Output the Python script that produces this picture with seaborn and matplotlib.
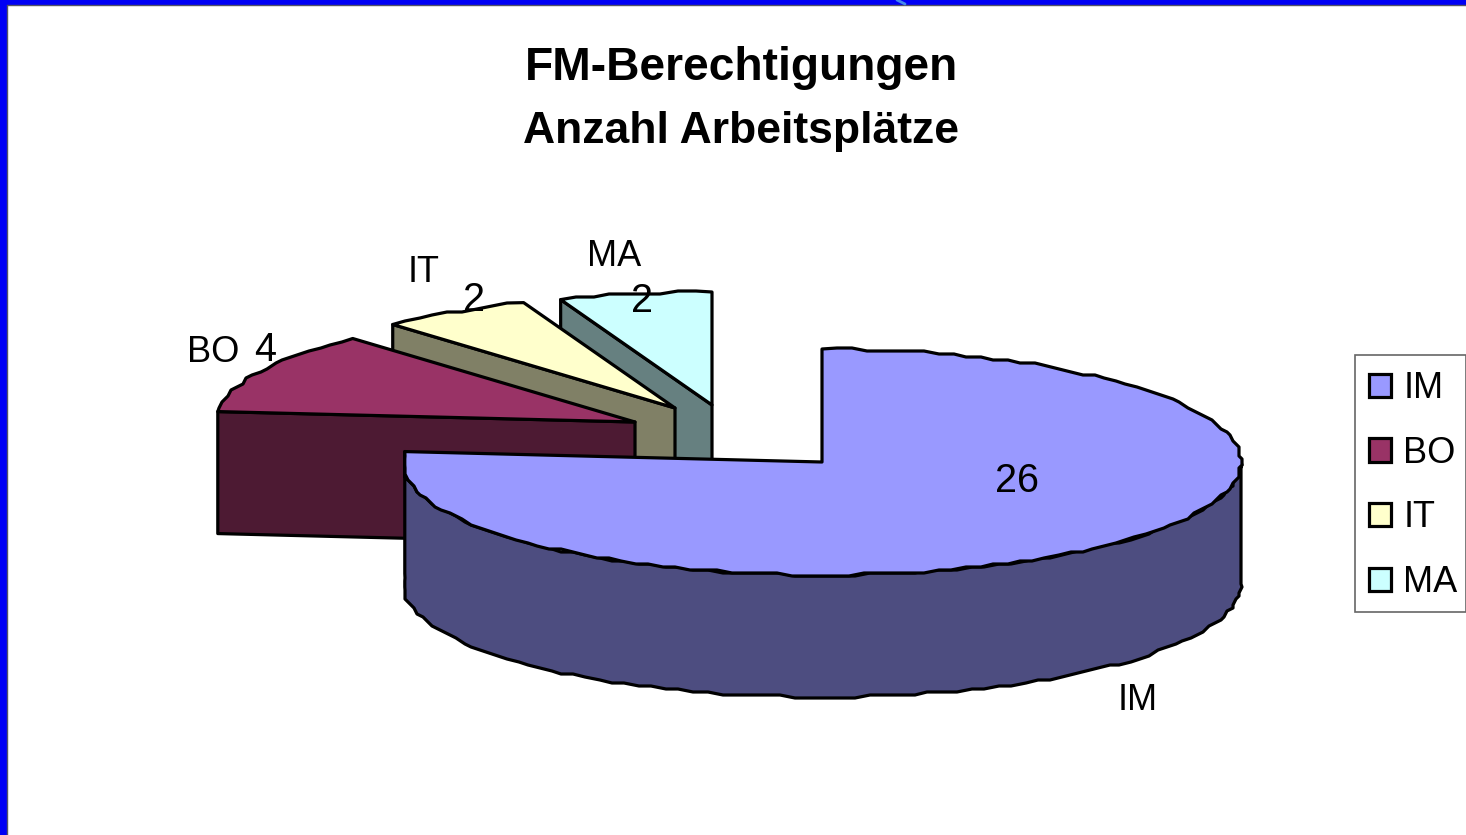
# 3D style exploded pie, drawn from the slice values on a pixel-sized axes.

import numpy as np
import matplotlib
matplotlib.use('Agg')
import matplotlib.pyplot as plt
from matplotlib.patches import Patch, Polygon, Rectangle
import seaborn as sns

# Chart values.

title_lines = ['FM-Berechtigungen', 'Anzahl Arbeitsplätze']
categories = ['IM', 'BO', 'IT', 'MA']
values = [26, 4, 2, 2]

# Colours and layout.

top_colors = sns.color_palette(['#9999FF', '#993366', '#FFFFCC', '#CCFFFF'])
side_colors = sns.color_palette(['#4D4D80', '#4D1A33', '#808066', '#668080'])
apex_x = [822, 635, 675, 712]
apex_y = [462, 422, 408, 405]
name_pos = [(1138, 700), (213, 353), (424, 273), (614, 256)]
value_pos = [(1017, 481), (265, 350), (474, 300), (642, 301)]
radius_x = 419
radius_y = 113
depth = 122
edge = 2.3

sns.set_style('white')
plt.rcParams['font.family'] = ['Liberation Sans', 'DejaVu Sans']
plt.rcParams['text.color'] = 'black'

fig = plt.figure(figsize=(14.66, 8.35), dpi=100)
ax = fig.add_axes([0, 0, 1, 1])
ax.set_xlim(0, 1466)
ax.set_ylim(835, 0)
ax.axis('off')


def rim(i, start, stop):
    # Points on the ellipse, angles clockwise from 12 o'clock.
    n = max(int(abs(stop - start) / 2), 2)
    ang = np.radians(np.linspace(start, stop, n))
    xy = np.column_stack([apex_x[i] + radius_x * np.sin(ang),
                          apex_y[i] - radius_y * np.cos(ang)])
    xy[1:-1] = np.round(xy[1:-1] / 3) * 3
    return xy


# Window border of the slide.

ax.add_patch(Rectangle((0, 0), 1466, 5, color='#0000F5', lw=0))
ax.add_patch(Rectangle((0, 0), 6.5, 835, color='#0000F5', lw=0))
ax.plot([7, 7, 1466], [835, 5, 5], color='#555566', lw=1)
ax.plot([897, 905], [0, 4], color='#4488EE', lw=2)

# Back slices first, the big one last.

stops = np.cumsum(values) / np.sum(values) * 360
starts = np.concatenate([[0], stops[:-1]])

for i in [3, 2, 1, 0]:
    apex = np.array([apex_x[i], apex_y[i]])
    top = rim(i, starts[i], stops[i])
    if i == 0:
        # The left end of the big slice is cut off straight.
        top[:, 0] = np.maximum(top[:, 0], top[-1, 0])
        front = rim(i, 90, stops[i])
        front[:, 0] = np.maximum(front[:, 0], front[-1, 0])
        wall = np.vstack([front, (front + [0, depth])[::-1]])
        ax.add_patch(Polygon(wall, fc=side_colors[i], ec='black', lw=edge, joinstyle='round'))
    else:
        face = np.array([top[0], apex, apex + [0, depth], top[0] + [0, depth]])
        ax.add_patch(Polygon(face, fc=side_colors[i], ec='black', lw=edge, joinstyle='round'))
    ax.add_patch(Polygon(np.vstack([apex, top]), fc=top_colors[i], ec='black', lw=edge, joinstyle='round'))

# Slice labels.

for i in range(len(categories)):
    ax.text(name_pos[i][0], name_pos[i][1], categories[i], fontsize=26, ha='center', va='center', zorder=5)
    ax.text(value_pos[i][0], value_pos[i][1], str(values[i]), fontsize=28.5, ha='center', va='center', zorder=5)

ax.text(742, 68, title_lines[0], fontsize=33.2, fontweight='bold', ha='center', va='center')
ax.text(741, 132, title_lines[1], fontsize=32, fontweight='bold', ha='center', va='center')

# Legend, the frame is its own rectangle so the padding can differ per side.

ax.add_patch(Rectangle((1355, 355), 111, 257, fc='white', ec='#666666', lw=1.2))
handles = [Patch(fc=top_colors[i], ec='black', lw=edge, label=categories[i]) for i in range(len(categories))]
ax.legend(handles=handles, loc='upper left', bbox_to_anchor=(1355, 357), bbox_transform=ax.transData,
          borderaxespad=0, fontsize=26, handlelength=0.62, handleheight=0.62, handletextpad=0.33,
          labelspacing=0.82, borderpad=0.39, frameon=False)

fig.savefig('out.png', dpi=100)
